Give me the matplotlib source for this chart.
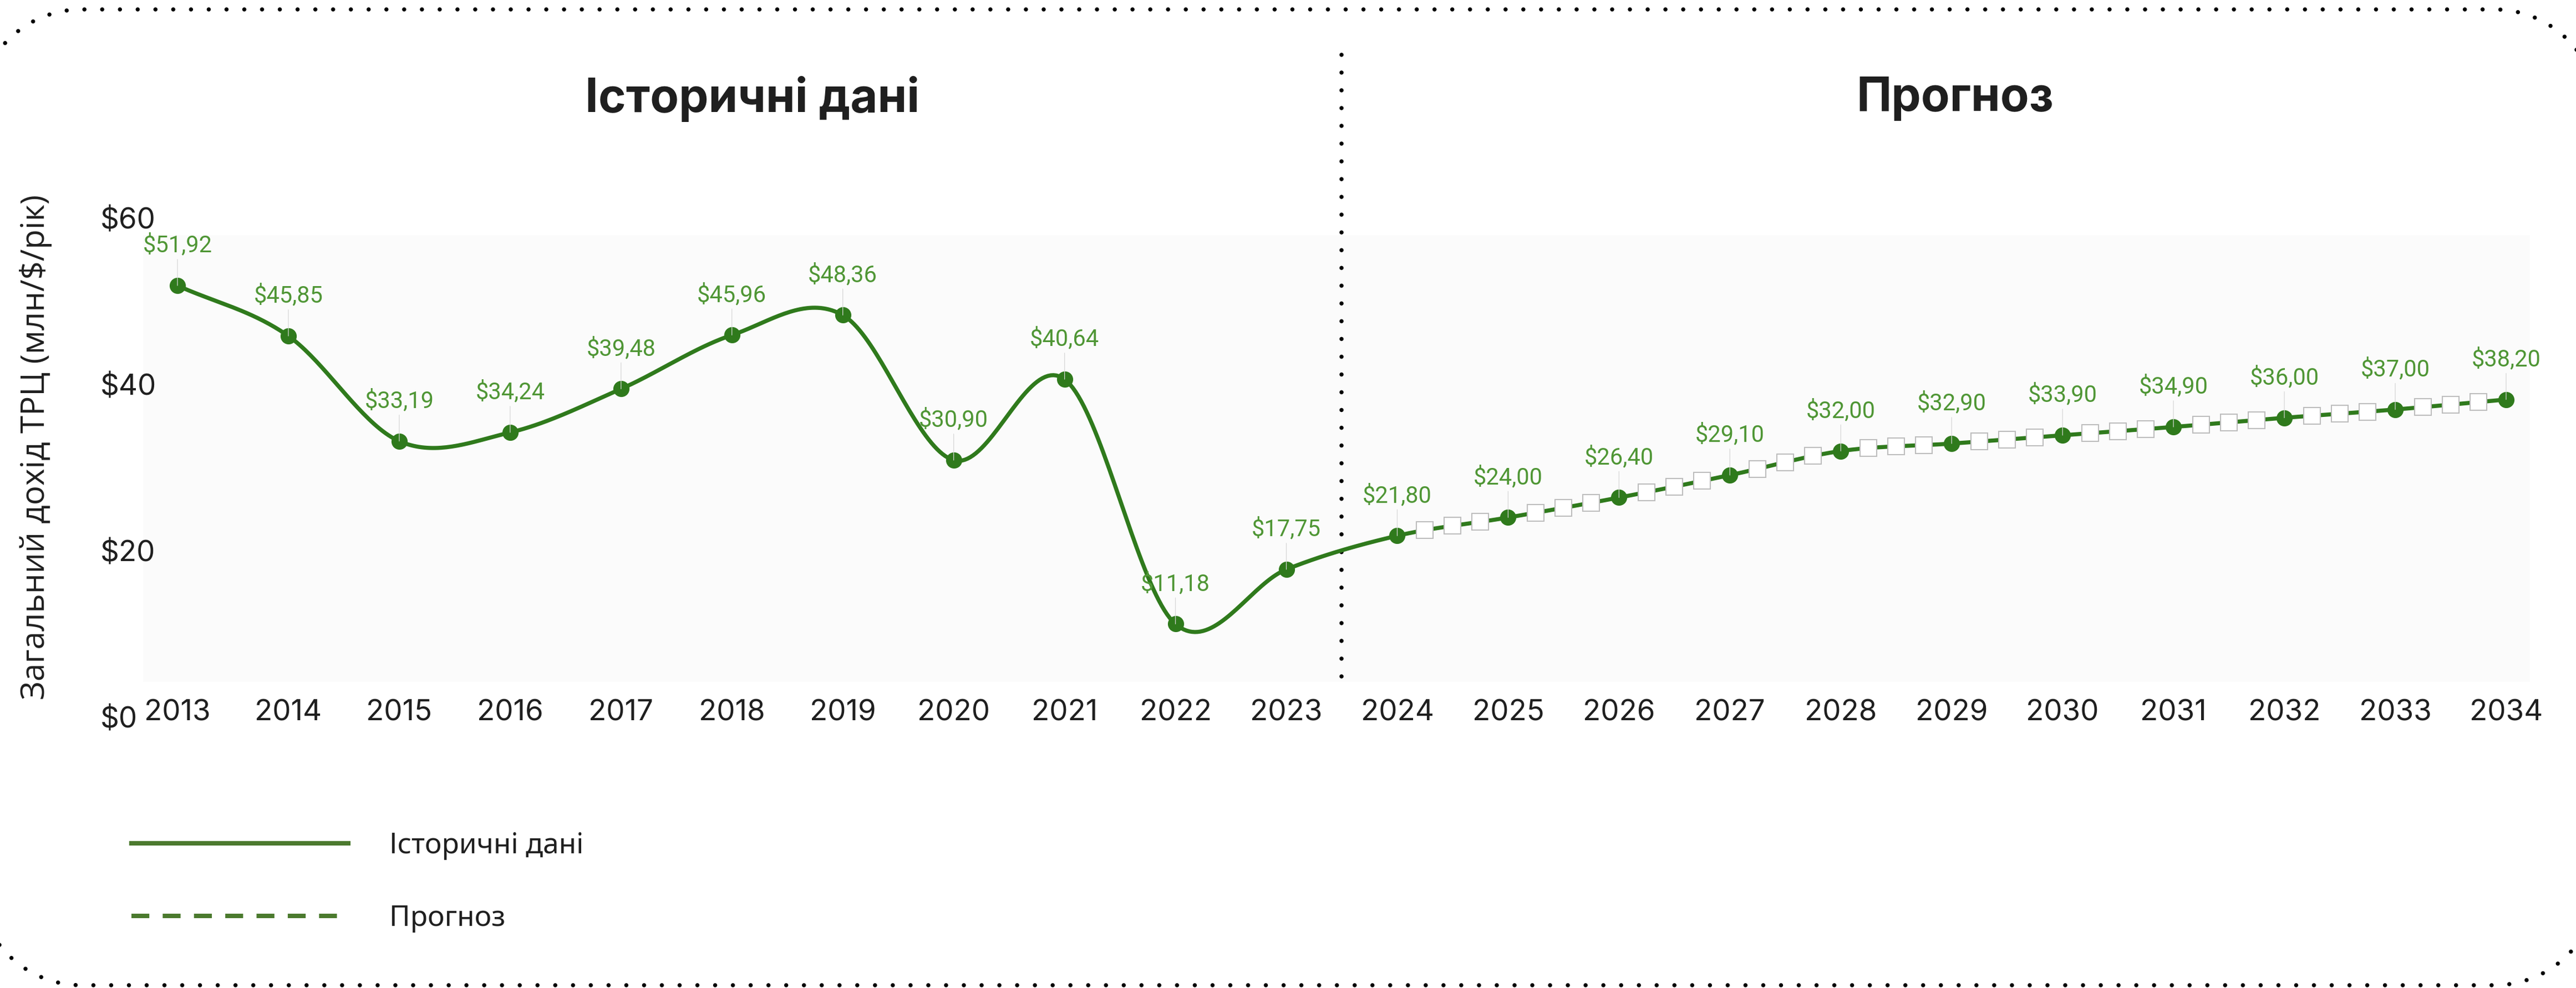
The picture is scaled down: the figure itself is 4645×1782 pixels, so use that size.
import numpy as np
import matplotlib
matplotlib.use("Agg")
import matplotlib.pyplot as plt
from matplotlib.lines import Line2D

HIST_YEARS = [2013, 2014, 2015, 2016, 2017, 2018, 2019, 2020, 2021, 2022, 2023]
HIST_VALUES = [51.92, 45.85, 33.19, 34.24, 39.48, 45.96, 48.36, 30.90, 40.64, 11.18, 17.75]
FORECAST_YEARS = [2024, 2025, 2026, 2027, 2028, 2029, 2030, 2031, 2032, 2033, 2034]
FORECAST_VALUES = [21.80, 24.00, 26.40, 29.10, 32.00, 32.90, 33.90, 34.90, 36.00, 37.00, 38.20]
Y_TICKS = [0, 20, 40, 60]
SECTION_TITLES = ["Історичні дані", "Прогноз"]
Y_LABEL = "Загальний дохід ТРЦ (млн/$/рік)"

LINE_COLOR = "#2f7a1c"
LABEL_COLOR = "#4f9635"
LEGEND_COLOR = "#4b7a2e"
TEXT_COLOR = "#1f1f1f"

W, H = 4645, 1782
STEPS = 40
DOTS = (0, (0.001, 4.27))

plt.rcParams["font.family"] = ["Inter", "DejaVu Sans"]


def smooth_curve(x, y, n=STEPS):
    # catmull-rom style hermite spline, like the chart tool draws it
    x = np.asarray(x, float)
    y = np.asarray(y, float)
    m = np.empty_like(y)
    m[1:-1] = (y[2:] - y[:-2]) / (x[2:] - x[:-2])
    m[0] = (y[1] - y[0]) / (x[1] - x[0])
    m[-1] = (y[-1] - y[-2]) / (x[-1] - x[-2])
    t = np.linspace(0, 1, n, endpoint=False)
    h00 = 2 * t**3 - 3 * t**2 + 1
    h10 = t**3 - 2 * t**2 + t
    h01 = -2 * t**3 + 3 * t**2
    h11 = t**3 - t**2
    xs, ys = [], []
    for i in range(len(x) - 1):
        dx = x[i + 1] - x[i]
        xs.append(x[i] + t * dx)
        ys.append(h00 * y[i] + h10 * dx * m[i] + h01 * y[i + 1] + h11 * dx * m[i + 1])
    xs.append([x[-1]])
    ys.append([y[-1]])
    return np.concatenate(xs), np.concatenate(ys)


def rounded_frame(left, bottom, right, top, r, n=40):
    # outline of a rounded rectangle, in inches
    a = np.linspace(0, np.pi / 2, n)
    pts = []
    pts += list(zip(right - r + r * np.cos(a), top - r + r * np.sin(a)))
    pts += list(zip(left + r - r * np.sin(a), top - r + r * np.cos(a)))
    pts += list(zip(left + r - r * np.cos(a), bottom + r - r * np.sin(a)))
    pts += list(zip(right - r + r * np.sin(a), bottom + r - r * np.cos(a)))
    pts.append(pts[0])
    return np.array(pts)


years = HIST_YEARS + FORECAST_YEARS
values = HIST_VALUES + FORECAST_VALUES

fig = plt.figure(figsize=(W / 100, H / 100), dpi=100)
fig.patch.set_facecolor("white")

ax = fig.add_axes([258 / W, 1 - 1293 / H, (4562 - 258) / W, (1293 - 364) / H])
ax.set_xlim(2013 - 62 / 199.95, 2013 + (4562 - 320) / 199.95)
ax.set_ylim(0, 62)
ax.set_facecolor("none")
for s in ax.spines.values():
    s.set_visible(False)
ax.axhspan(4.2, 58.0, color="#fbfbfb", zorder=0, lw=0)

# curve
cx, cy = smooth_curve(years, values)
split = len(HIST_YEARS) * STEPS
ax.plot(cx, cy, color=LINE_COLOR, lw=5.3, zorder=3, solid_capstyle="round")

# white square dash marks on the forecast part
fc_x = cx[split:-1]
fc_y = cy[split:-1]
idx = [i for i in range(len(fc_x)) if i % STEPS in (STEPS // 4, STEPS // 2, 3 * STEPS // 4)]
ax.plot(fc_x[idx], fc_y[idx], "s", ms=22, mfc="white", mec="#bdbdbd", mew=1.5, zorder=4, ls="none")

ax.plot(years, values, "o", ms=20, color=LINE_COLOR, zorder=5, ls="none")

for x, v in zip(years, values):
    ax.annotate(f"${v:.2f}".replace(".", ","), xy=(x, v), xytext=(0, 52),
                textcoords="offset points", ha="center", va="center",
                fontsize=30, color=LABEL_COLOR, family=["Roboto", "DejaVu Sans"],
                arrowprops=dict(arrowstyle="-", color="#d6d6d6", lw=0.9,
                                shrinkA=1, shrinkB=0), zorder=6)

# divider between history and forecast
ax.axvline((HIST_YEARS[-1] + FORECAST_YEARS[0]) / 2, ymin=4.9 / 62, ymax=81.2 / 62,
           color="black", lw=5.4, ls=DOTS, dash_capstyle="round",
           clip_on=False, zorder=2)

ax.set_xticks(years)
ax.set_xticklabels([str(y) for y in years])
ax.set_yticks(Y_TICKS)
ax.set_yticklabels([f"${t}" for t in Y_TICKS])
ax.tick_params(axis="x", length=0, pad=-23, labelsize=38, labelcolor=TEXT_COLOR)
ax.tick_params(axis="y", length=0, pad=55.4, labelsize=38, labelcolor=TEXT_COLOR)
for lbl in ax.get_yticklabels():
    lbl.set_ha("left")

fig.text(65 / W, 1 - 806 / H, Y_LABEL, rotation=90, ha="center", va="center",
         fontsize=42, color=TEXT_COLOR, family=["Open Sans", "DejaVu Sans"])

fig.text(1357 / W, 1 - 178 / H, SECTION_TITLES[0], ha="center", va="center",
         fontsize=61, fontweight="bold", color=TEXT_COLOR)
fig.text(3525 / W, 1 - 178 / H, SECTION_TITLES[1], ha="center", va="center",
         fontsize=61, fontweight="bold", color=TEXT_COLOR)

handles = [
    Line2D([], [], color=LEGEND_COLOR, lw=5.8),
    Line2D([], [], color=LEGEND_COLOR, lw=5.8, ls=(0, (4, 3))),
]
fig.legend(handles, SECTION_TITLES, loc="upper left",
           bbox_to_anchor=(237 / W, 1 - 1500 / H), frameon=False,
           handlelength=7.6, handletextpad=1.45,
           labelspacing=1.55, borderpad=0, borderaxespad=0,
           labelcolor=TEXT_COLOR, prop={"family": ["Noto Sans", "DejaVu Sans"], "size": 37})

# dotted rounded frame around everything
frame = rounded_frame(-0.40, 0.05, 46.85, 17.65, 1.87)
fig.add_artist(Line2D(frame[:, 0], frame[:, 1], transform=fig.dpi_scale_trans,
                      color="black", lw=5.4, ls=DOTS, dash_capstyle="round"))

fig.savefig("out.png", dpi=100, facecolor="white")
